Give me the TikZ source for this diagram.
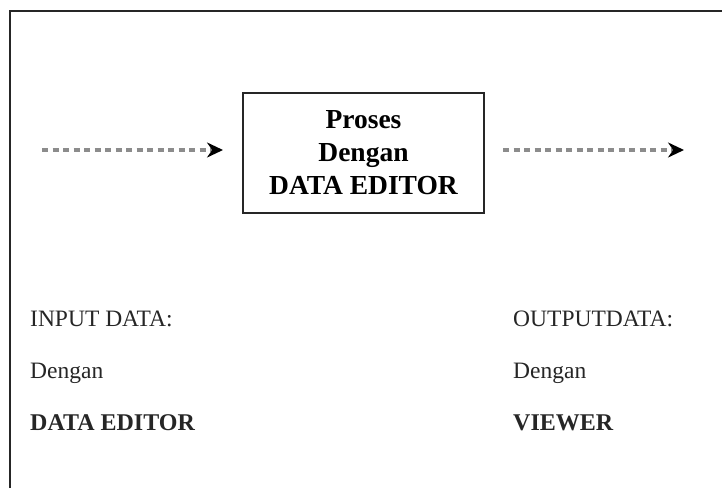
\documentclass[tikz,border=0pt]{standalone}
\usepackage{fontspec}
\setmainfont{Liberation Serif}
\usetikzlibrary{arrows.meta}
\begin{document}
\begin{tikzpicture}[x=1pt,y=-1pt,
  procbox/.style={draw=black!85, line width=1.5pt, minimum width=241pt,
    minimum height=120pt, align=center, inner sep=0pt,
    font=\fontsize{27.5}{33}\selectfont\bfseries},
  flow/.style={draw=black!45, line width=3.4pt, dash pattern=on 6pt off 4.5pt,
    -{Stealth[length=16pt,width=15pt,black]}},
  label/.style={anchor=base west, inner sep=0pt, text=black!85,
    font=\fontsize{23.5}{28}\selectfont},
  strong/.style={font=\fontsize{24}{28}\selectfont\bfseries},
  frame/.style={draw=black!85, line width=2pt}]
  \useasboundingbox (0,0) rectangle (722,488);
  % outer frame, open towards the right and bottom
  \draw[frame] (10,488) -- (10,11) -- (722,11);

  % central process
  \node[procbox] (proc) at (363.5,153) {Proses\\Dengan\\DATA EDITOR};

  % incoming and outgoing flows
  \coordinate (inS) at (42,150);
  \coordinate (inE) at (223,150);
  \coordinate (outS) at (503,150);
  \coordinate (outE) at (684,150);
  \draw[flow] (inS) -- (inE);
  \draw[flow] (outS) -- (outE);

  % input description
  \node[label] (inA) at (30,326) {INPUT DATA:};
  \node[label] (inB) at (30,378) {Dengan};
  \node[label,strong] (inC) at (30,430) {DATA EDITOR};

  % output description
  \node[label] (outA) at (513,326) {OUTPUTDATA:};
  \node[label] (outB) at (513,378) {Dengan};
  \node[label,strong] (outC) at (513,430) {VIEWER};
\end{tikzpicture}
\end{document}
